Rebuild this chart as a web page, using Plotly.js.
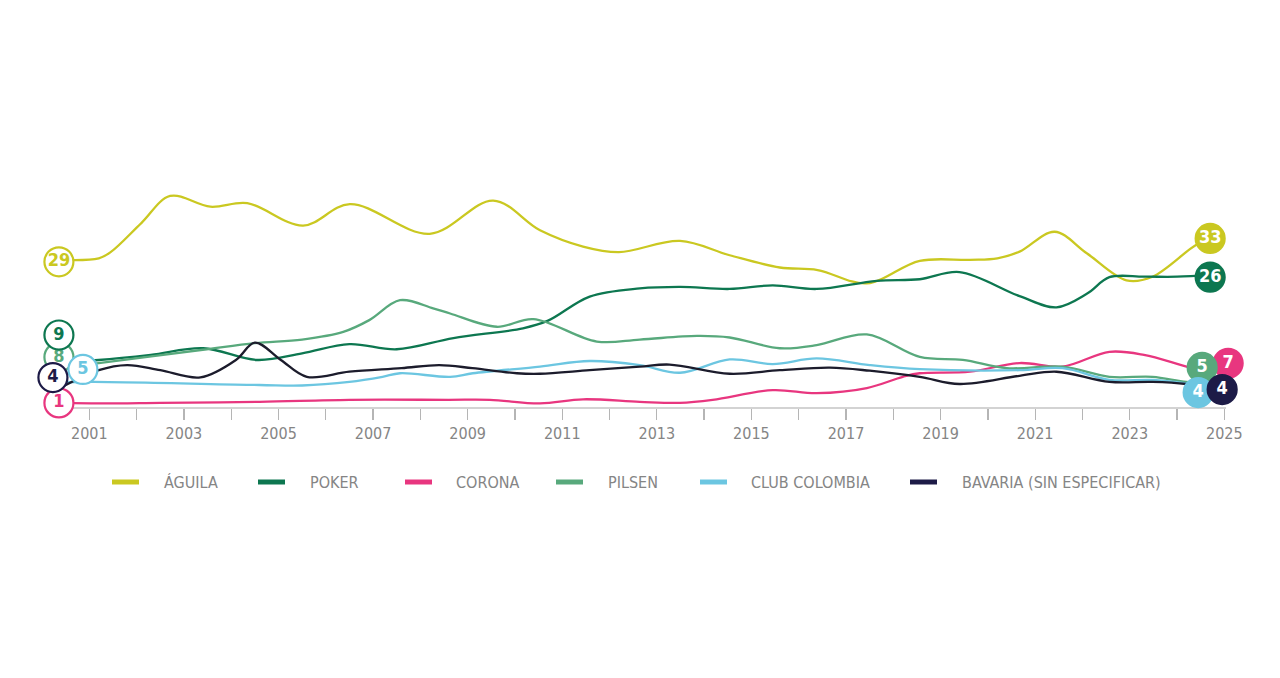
<!DOCTYPE html>
<html>
<head>
<meta charset="utf-8">
<script src="https://cdn.plot.ly/plotly-3.0.1.min.js"></script>
<style>
  html, body { margin: 0; padding: 0; background: #ffffff; }
  #chart { width: 1280px; height: 678px; }
</style>
</head>
<body>
<div id="chart"></div>
<script>
// ---------------- DATA ----------------
const seriesNames = ["ÁGUILA", "POKER", "CORONA", "PILSEN", "CLUB COLOMBIA", "BAVARIA (SIN ESPECIFICAR)"];

const aguilaX = [2000.4, 2001.2, 2001.45, 2002.1, 2002.71, 2003.56, 2004.34, 2005.52, 2006.51, 2008.2, 2009.54, 2010.53, 2011.44, 2012.2, 2013.49, 2014.54, 2015.6, 2016.4, 2017.44, 2018.56, 2019.62, 2020.2, 2020.67, 2021.41, 2022.09, 2022.93, 2023.48, 2024.4, 2024.7];
const aguilaY = [29, 29.3, 30.5, 36.2, 41.5, 39.4, 40.1, 35.7, 39.9, 34.1, 40.6, 34.8, 31.6, 30.5, 32.7, 29.9, 27.5, 27.0, 24.4, 28.8, 29.0, 29.3, 30.6, 34.5, 30.3, 25.0, 25.7, 31.9, 33];

const pokerX = [2000.4, 2001.2, 2002.3, 2003.41, 2004.55, 2005.5, 2006.5, 2007.5, 2008.7, 2010.17, 2010.7, 2011.58, 2012.64, 2013.5, 2014.54, 2015.45, 2016.38, 2017.65, 2018.56, 2019.4, 2020.67, 2021.45, 2022.1, 2022.57, 2023.3, 2024.0, 2024.7];
const pokerY = [9, 9.4, 10.4, 11.7, 9.4, 10.7, 12.5, 11.5, 13.7, 15.6, 17.1, 21.8, 23.4, 23.7, 23.3, 24.0, 23.3, 24.9, 25.2, 26.6, 21.9, 19.7, 22.4, 25.6, 25.7, 25.7, 26];

const coronaX = [2000.4, 2001.2, 2002.5, 2004.6, 2006.5, 2008.6, 2009.47, 2010.53, 2011.44, 2012.64, 2013.49, 2014.18, 2015.45, 2016.38, 2017.44, 2018.2, 2018.56, 2019.62, 2020.67, 2021.58, 2022.57, 2023.3, 2024.2, 2024.7];
const coronaY = [1, 0.9, 1.0, 1.2, 1.6, 1.6, 1.6, 0.9, 1.7, 1.2, 1.0, 1.6, 3.5, 2.9, 3.9, 6.1, 6.8, 7.1, 8.8, 8.1, 11.0, 10.4, 8.1, 7];

const pilsenX = [2000.4, 2001.2, 2003.4, 2004.5, 2005.5, 2006.37, 2006.92, 2007.57, 2008.27, 2008.63, 2009.62, 2010.39, 2011.73, 2012.64, 2013.85, 2014.54, 2015.6, 2016.38, 2017.44, 2018.56, 2019.47, 2020.4, 2021.58, 2022.57, 2023.48, 2024.2, 2024.7];
const pilsenY = [8, 8.8, 11.4, 12.7, 13.4, 14.9, 17.2, 21.1, 19.5, 18.5, 15.9, 17.4, 13.0, 13.4, 14.1, 13.8, 11.7, 12.3, 14.4, 10.0, 9.4, 7.8, 8.1, 6.1, 6.1, 5.1, 5];

const clubX = [2000.4, 2001.1, 2004.6, 2005.5, 2006.5, 2007.2, 2007.57, 2008.63, 2009.11, 2010.53, 2011.58, 2012.64, 2013.49, 2014.54, 2015.45, 2016.38, 2017.5, 2018.56, 2020.67, 2021.58, 2022.57, 2023.48, 2024.2, 2024.7];
const clubY = [5, 5.1, 4.5, 4.4, 5.1, 6.1, 6.8, 6.1, 6.8, 8.1, 9.2, 8.4, 6.9, 9.5, 8.6, 9.7, 8.4, 7.6, 7.4, 7.8, 5.5, 5.5, 4.8, 4];

const bavariaX = [2000.4, 2001.2, 2001.8, 2002.5, 2003.35, 2004.1, 2004.5, 2005.05, 2005.6, 2006.5, 2007.6, 2008.4, 2009.1, 2010.04, 2010.53, 2011.58, 2012.64, 2013.27, 2014.54, 2015.6, 2016.66, 2017.5, 2018.56, 2019.4, 2020.67, 2021.45, 2022.57, 2023.48, 2024.2, 2024.7];
const bavariaY = [4, 7.4, 8.4, 7.4, 6.0, 9.4, 12.8, 9.4, 6.1, 7.1, 7.8, 8.4, 7.8, 6.8, 6.7, 7.4, 8.1, 8.5, 6.7, 7.4, 7.9, 7.3, 6.1, 4.7, 6.3, 7.1, 5.1, 5.1, 4.7, 4];

const tickYears = [2001, 2002, 2003, 2004, 2005, 2006, 2007, 2008, 2009, 2010, 2011, 2012, 2013, 2014, 2015, 2016, 2017, 2018, 2019, 2020, 2021, 2022, 2023, 2024, 2025];
const tickLabels = ["2001", "", "2003", "", "2005", "", "2007", "", "2009", "", "2011", "", "2013", "", "2015", "", "2017", "", "2019", "", "2021", "", "2023", "", "2025"];

// ---------------- STYLE ----------------
const colors = {
  "ÁGUILA": "#cac821",
  "POKER": "#0d7750",
  "CORONA": "#e8367f",
  "PILSEN": "#58a97c",
  "CLUB COLOMBIA": "#6cc6e1",
  "BAVARIA (SIN ESPECIFICAR)": "#1d1b47"
};
const lineColors = Object.assign({}, colors, {"BAVARIA (SIN ESPECIFICAR)": "#1c1c2c"});

const W = 1280, H = 678;
const M = {l: 42, r: 32, t: 150, b: 270};
const xRange = [2000.0, 2025.5];
const yRange = [0, 50.5];
const plotW = W - M.l - M.r, plotH = H - M.t - M.b;
const pxPerX = plotW / (xRange[1] - xRange[0]);
const pxPerY = plotH / (yRange[1] - yRange[0]);
const axisLinePx = [63, 1226];

// label bubble pixel offsets from first / last point (dx, dy in screen px)
const startOffsets = {
  "ÁGUILA": [-2, 2], "POKER": [-2, -27], "CORONA": [-2, 0],
  "PILSEN": [-2, -10], "CLUB COLOMBIA": [22, -13], "BAVARIA (SIN ESPECIFICAR)": [-8, -10]
};
const endOffsets = {
  "ÁGUILA": [0, -1], "POKER": [0, 2], "CORONA": [18, -9],
  "PILSEN": [-8, -15], "CLUB COLOMBIA": [-12, 5], "BAVARIA (SIN ESPECIFICAR)": [12, 2]
};

const FONT = "'DejaVu Sans Condensed', 'Liberation Sans Narrow', 'Liberation Sans', sans-serif";
const GREY = "#858585";

const seriesData = {
  "ÁGUILA": [aguilaX, aguilaY],
  "POKER": [pokerX, pokerY],
  "CORONA": [coronaX, coronaY],
  "PILSEN": [pilsenX, pilsenY],
  "CLUB COLOMBIA": [clubX, clubY],
  "BAVARIA (SIN ESPECIFICAR)": [bavariaX, bavariaY]
};

const traces = [];
seriesNames.forEach(name => {
  const [xs, ys] = seriesData[name];
  traces.push({
    type: "scatter", mode: "lines", name: name, x: xs, y: ys,
    line: {color: lineColors[name], width: 2.3, shape: "spline", smoothing: 1.0},
    hoverinfo: "x+y+name", showlegend: false, cliponaxis: false
  });
});

const bubbleOrder = ["CORONA", "PILSEN", "POKER", "CLUB COLOMBIA", "BAVARIA (SIN ESPECIFICAR)", "ÁGUILA"];
bubbleOrder.forEach(name => {
  const [xs, ys] = seriesData[name];
  const n = xs.length;
  const so = startOffsets[name], eo = endOffsets[name];
  const bx = [xs[0] + so[0] / pxPerX, xs[n - 1] + eo[0] / pxPerX];
  const by = [ys[0] - so[1] / pxPerY, ys[n - 1] - eo[1] / pxPerY];
  const txt = [String(Math.round(ys[0])), String(Math.round(ys[n - 1]))];
  traces.push({
    type: "scatter", mode: "markers+text", x: bx, y: by, text: txt,
    textposition: "middle center",
    textfont: {family: FONT, size: 18, color: [colors[name], "#ffffff"], weight: "bold"},
    marker: {size: 29, color: ["#ffffff", colors[name]], line: {color: colors[name], width: 2.2}},
    hoverinfo: "skip", showlegend: false, cliponaxis: false
  });
});

const legendY = 482;
const swatchX = [112, 258, 405, 556, 700, 910];
const legendTextX = [162, 308, 454, 606, 749, 960];
const swatchW = 27;
const px2paperX = px => (px - M.l) / plotW;
const py2paperY = py => (H - M.b - py) / plotH;

const shapes = [{
  type: "line", xref: "paper", yref: "paper",
  x0: px2paperX(axisLinePx[0]), x1: px2paperX(axisLinePx[1]), y0: 0, y1: 0,
  line: {color: "#c4c4c4", width: 1.5}, layer: "below"
}];
const annotations = [];
seriesNames.forEach((name, i) => {
  shapes.push({
    type: "line", xref: "paper", yref: "paper",
    x0: px2paperX(swatchX[i]), x1: px2paperX(swatchX[i] + swatchW),
    y0: py2paperY(legendY), y1: py2paperY(legendY),
    line: {color: colors[name], width: 5}
  });
  annotations.push({
    xref: "paper", yref: "paper", x: px2paperX(legendTextX[i]), y: py2paperY(legendY),
    xanchor: "left", yanchor: "middle", showarrow: false, text: name,
    font: {family: FONT, size: 16, color: GREY}
  });
});

const layout = {
  width: W, height: H,
  margin: M,
  paper_bgcolor: "#ffffff", plot_bgcolor: "#ffffff",
  showlegend: false,
  xaxis: {
    range: xRange, showgrid: false, zeroline: false, showline: false,
    tickmode: "array", tickvals: tickYears, ticktext: tickLabels,
    ticks: "outside", ticklen: 11, tickwidth: 1.3, tickcolor: "#b5b5b5",
    tickfont: {family: FONT, size: 16, color: GREY}
  },
  yaxis: {range: yRange, visible: false, showgrid: false, zeroline: false},
  shapes: shapes,
  annotations: annotations
};

Plotly.newPlot("chart", traces, layout, {displayModeBar: false, staticPlot: true});
</script>
</body>
</html>
